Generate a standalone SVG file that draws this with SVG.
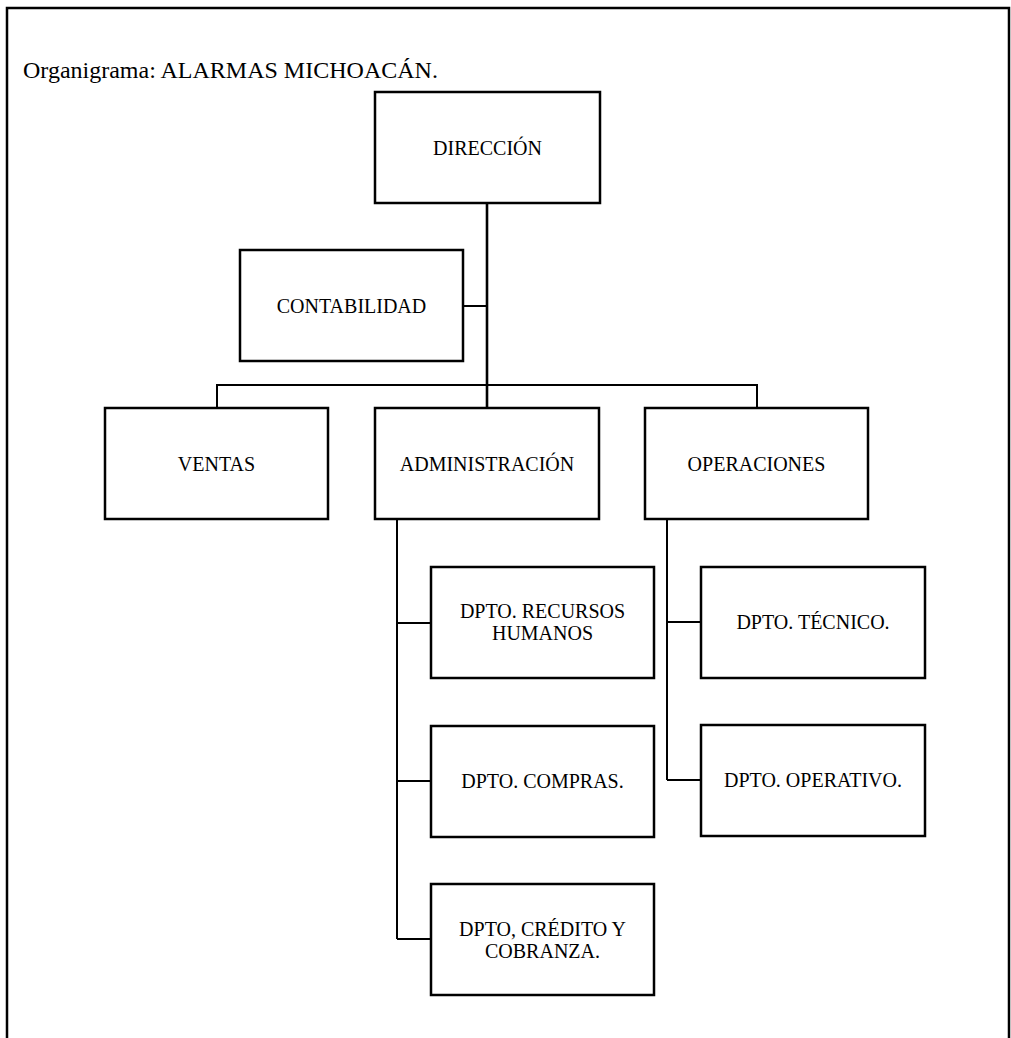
<svg xmlns="http://www.w3.org/2000/svg" width="1011" height="1038" viewBox="0 0 1011 1038">
  <style>
    .box { fill: #ffffff; stroke: #000000; stroke-width: 2.5; }
    .lbl { font-family: "Liberation Serif", "Times New Roman", serif; font-size: 20px; fill: #000000; text-anchor: middle; }
    .title { font-family: "Liberation Serif", "Times New Roman", serif; font-size: 24px; fill: #000000; }
    .wire { fill: none; stroke: #000000; stroke-width: 2; }
    .trunk { fill: none; stroke: #000000; stroke-width: 2.6; }
    .frame { fill: none; stroke: #000000; stroke-width: 2.5; }
  </style>
  <rect x="0" y="0" width="1011" height="1038" fill="#ffffff"/>

  <!-- page frame -->
  <path class="frame" d="M7 1038 V8 H1009 V1038"/>

  <text class="title" x="23" y="78">Organigrama: ALARMAS MICHOACÁN.</text>

  <!-- connectors -->
  <g id="connectors">
    <path class="trunk" d="M487 203 V408"/>
    <path class="wire" d="M463 306 H487"/>
    <path class="wire" d="M217 408 V385 H757 V408"/>
    <path class="wire" d="M397 519 V939"/>
    <path class="wire" d="M397 623 H431 M397 781 H431 M397 939 H431"/>
    <path class="wire" d="M667 519 V780"/>
    <path class="wire" d="M667 622 H701 M667 780 H701"/>
  </g>

  <g id="direccion">
    <rect class="box" x="375" y="92" width="225" height="111"/>
    <text class="lbl" x="487.5" y="155">DIRECCIÓN</text>
  </g>
  <g id="contabilidad">
    <rect class="box" x="240" y="250" width="223" height="111"/>
    <text class="lbl" x="351.5" y="313">CONTABILIDAD</text>
  </g>
  <g id="ventas">
    <rect class="box" x="105" y="408" width="223" height="111"/>
    <text class="lbl" x="216.5" y="471">VENTAS</text>
  </g>
  <g id="administracion">
    <rect class="box" x="375" y="408" width="224" height="111"/>
    <text class="lbl" x="487" y="471">ADMINISTRACIÓN</text>
  </g>
  <g id="operaciones">
    <rect class="box" x="645" y="408" width="223" height="111"/>
    <text class="lbl" x="756.5" y="471">OPERACIONES</text>
  </g>
  <g id="recursos-humanos">
    <rect class="box" x="431" y="567" width="223" height="111"/>
    <text class="lbl" x="542.5" y="618">DPTO. RECURSOS</text>
    <text class="lbl" x="542.5" y="640">HUMANOS</text>
  </g>
  <g id="compras">
    <rect class="box" x="431" y="726" width="223" height="111"/>
    <text class="lbl" x="542.5" y="788">DPTO. COMPRAS.</text>
  </g>
  <g id="credito-cobranza">
    <rect class="box" x="431" y="884" width="223" height="111"/>
    <text class="lbl" x="542.5" y="936">DPTO, CRÉDITO Y</text>
    <text class="lbl" x="542.5" y="958">COBRANZA.</text>
  </g>
  <g id="tecnico">
    <rect class="box" x="701" y="567" width="224" height="111"/>
    <text class="lbl" x="813" y="629">DPTO. TÉCNICO.</text>
  </g>
  <g id="operativo">
    <rect class="box" x="701" y="725" width="224" height="111"/>
    <text class="lbl" x="813" y="787">DPTO. OPERATIVO.</text>
  </g>
</svg>
